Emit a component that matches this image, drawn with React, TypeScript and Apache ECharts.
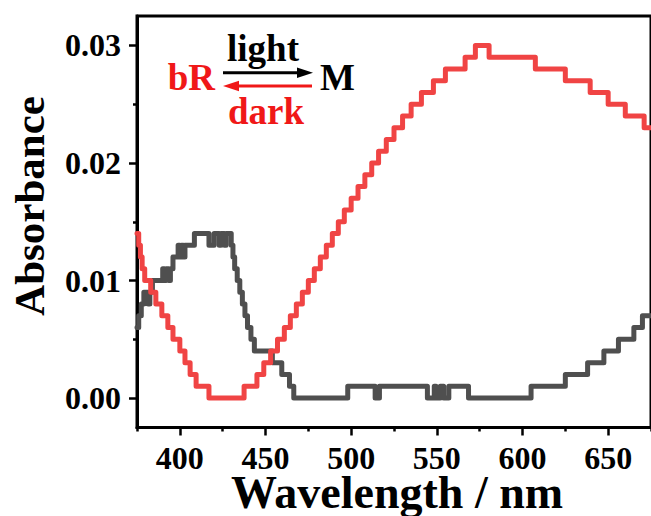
import React, { useEffect, useRef } from "react";
import * as echarts from "echarts";

const FONT = '"Liberation Serif", "Times New Roman", serif';

const X_MIN = 375;
const X_MAX = 675;
const Y_MIN = -0.0025;
const Y_MAX = 0.0325;
const xMajorTicks = [400, 450, 500, 550, 600, 650];
const xMinorTicks = [375, 425, 475, 525, 575, 625, 675];
const yMajorTicks = [0, 0.01, 0.02, 0.03];
const yMinorTicks = [0.005, 0.015, 0.025];

// M (dark grey) — wavelength at which each new level starts
const mWavelength = [
  375, 376, 377.5, 379, 381.5, 382.5, 384, 390, 391, 392, 393.5, 394.5, 396,
  399, 400, 401, 402, 403, 408.5, 417, 420, 423, 424, 426, 427, 430, 431, 432,
  433.5, 435, 436.5, 438, 439.5, 441.5, 443.5, 454, 459.5, 464, 466.5, 498,
  514, 516.5, 544.5, 548.5, 549.5, 552, 554, 557, 568.5, 605, 625, 638, 647.5,
  656, 665, 670, 675,
];
const mAbs = [
  0.006, 0.007, 0.008, 0.009, 0.008, 0.009, 0.01, 0.011, 0.01, 0.011, 0.01,
  0.011, 0.012, 0.013, 0.012, 0.013, 0.012, 0.013, 0.014, 0.013, 0.014, 0.013,
  0.014, 0.013, 0.014, 0.013, 0.012, 0.011, 0.01, 0.009, 0.008, 0.007, 0.006,
  0.005, 0.004, 0.003, 0.002, 0.001, 0, 0.001, 0, 0.001, 0, 0.001, 0, 0.001,
  0, 0.001, 0, 0.001, 0.002, 0.003, 0.004, 0.005, 0.006, 0.007, 0.007,
];

// bR (red)
const bRWavelength = [
  375, 376, 377, 378, 379.5, 383, 386, 389.5, 393, 396, 400, 403, 406, 409.5,
  417, 437.5, 445, 449, 453, 457, 461, 464.5, 468, 471.5, 475, 478.5, 482,
  485.5, 489, 492.5, 496, 500, 504, 508, 512, 516, 520.5, 525, 530, 535, 541,
  548, 555, 566.5, 572.5, 580.5, 607.5, 625, 639.5, 650, 660, 671, 675,
];
const bRAbs = [
  0.014, 0.013, 0.012, 0.011, 0.01, 0.009, 0.008, 0.007, 0.006, 0.005, 0.004,
  0.003, 0.002, 0.001, 0, 0.001, 0.002, 0.003, 0.004, 0.005, 0.006, 0.007,
  0.008, 0.009, 0.01, 0.011, 0.012, 0.013, 0.014, 0.015, 0.016, 0.017, 0.018,
  0.019, 0.02, 0.021, 0.022, 0.023, 0.024, 0.025, 0.026, 0.027, 0.028, 0.029,
  0.03, 0.029, 0.028, 0.027, 0.026, 0.025, 0.024, 0.023, 0.023,
];

const xTitle = "Wavelength / nm";
const yTitle = "Absorbance";

const zip = (xs: number[], ys: number[]) => xs.map((x, i) => [x, ys[i]]);

export default function App() {
  const ref = useRef<HTMLDivElement>(null);
  useEffect(() => {
    if (!ref.current) return;
    const chart = echarts.init(ref.current, undefined, { renderer: "svg" });
    const labelStyle = {
      color: "#000",
      fontFamily: FONT,
      fontWeight: "bold" as const,
      fontSize: 32,
    };
    const grid = { left: 137, top: 16, width: 518, height: 411.5, show: true, borderColor: "#000", borderWidth: 3, backgroundColor: "transparent" };
    const option: any = {
      animation: false,
      grid,
      xAxis: [
        {
          type: "value",
          min: X_MIN,
          max: X_MAX,
          position: "bottom",
          axisLine: { show: true, onZero: false, lineStyle: { color: "#000", width: 3 } },
          axisTick: { show: true, inside: false, length: 8, customValues: xMajorTicks, lineStyle: { color: "#000", width: 2.5 } },
          axisLabel: { show: true, customValues: xMajorTicks, margin: 14, ...labelStyle },
          splitLine: { show: false },
        },
        {
          type: "value",
          min: X_MIN,
          max: X_MAX,
          position: "bottom",
          axisLine: { show: false, onZero: false },
          axisTick: { show: true, inside: false, length: 4, customValues: xMinorTicks, lineStyle: { color: "#000", width: 2.5 } },
          axisLabel: { show: false },
          splitLine: { show: false },
        },
      ],
      yAxis: [
        {
          type: "value",
          min: Y_MIN,
          max: Y_MAX,
          position: "left",
          axisLine: { show: true, onZero: false, lineStyle: { color: "#000", width: 3 } },
          axisTick: { show: true, inside: false, length: 8, customValues: yMajorTicks, lineStyle: { color: "#000", width: 2.5 } },
          axisLabel: { show: true, customValues: yMajorTicks, margin: 16, formatter: (v: number) => v.toFixed(2), ...labelStyle },
          splitLine: { show: false },
        },
        {
          type: "value",
          min: Y_MIN,
          max: Y_MAX,
          position: "left",
          offset: 0,
          axisLine: { show: false, onZero: false },
          axisTick: { show: true, inside: false, length: 4, customValues: yMinorTicks, lineStyle: { color: "#000", width: 2.5 } },
          axisLabel: { show: false },
          splitLine: { show: false },
        },
      ],
      series: [
        {
          name: "M",
          type: "line",
          step: "end",
          xAxisIndex: 0,
          yAxisIndex: 0,
          data: zip(mWavelength, mAbs),
          symbol: "none",
          clip: true,
          lineStyle: { color: "#4f4f4f", width: 5, join: "round", cap: "round" },
        },
        {
          name: "bR",
          type: "line",
          step: "end",
          xAxisIndex: 0,
          yAxisIndex: 0,
          data: zip(bRWavelength, bRAbs),
          symbol: "none",
          clip: true,
          lineStyle: { color: "#f04444", width: 5, join: "round", cap: "round" },
        },
      ],
      graphic: [
        {
          type: "text",
          x: 29,
          y: 206,
          rotation: Math.PI / 2,
          style: { text: yTitle, fontFamily: FONT, fontWeight: "bold", fontSize: 43, fill: "#000", align: "center", verticalAlign: "middle" },
        },
        {
          type: "text",
          x: 397,
          y: 492,
          style: { text: xTitle, fontFamily: FONT, fontWeight: "bold", fontSize: 46, lineHeight: 36, fill: "#000", align: "center", verticalAlign: "middle" },
        },
        {
          type: "text",
          x: 215,
          y: 77.5,
          style: { text: "bR", fontFamily: FONT, fontWeight: "bold", fontSize: 37, fill: "#f01818", align: "right", verticalAlign: "middle" },
        },
        {
          type: "text",
          x: 320,
          y: 77.5,
          style: { text: "M", fontFamily: FONT, fontWeight: "bold", fontSize: 37, fill: "#000", align: "left", verticalAlign: "middle" },
        },
        {
          type: "text",
          x: 263,
          y: 48.5,
          style: { text: "light", fontFamily: FONT, fontWeight: "bold", fontSize: 37, fill: "#000", align: "center", verticalAlign: "middle" },
        },
        {
          type: "text",
          x: 266,
          y: 111.5,
          style: { text: "dark", fontFamily: FONT, fontWeight: "bold", fontSize: 37, fill: "#f01818", align: "center", verticalAlign: "middle" },
        },
        {
          type: "line",
          shape: { x1: 223, y1: 72.7, x2: 300, y2: 72.7 },
          style: { stroke: "#000", lineWidth: 3 },
        },
        {
          type: "polygon",
          shape: { points: [[297, 67.5], [313, 72.7], [297, 78]] },
          style: { fill: "#000" },
        },
        {
          type: "line",
          shape: { x1: 236, y1: 86, x2: 312, y2: 86 },
          style: { stroke: "#f01818", lineWidth: 3 },
        },
        {
          type: "polygon",
          shape: { points: [[239, 80.8], [223, 86], [239, 91.2]] },
          style: { fill: "#f01818" },
        },
      ],
    };
    chart.setOption(option);
    return () => chart.dispose();
  }, []);
  return (
    <div
      ref={ref}
      style={{ position: "fixed", left: 0, top: 0, width: 651, height: 516, background: "#fff" }}
    />
  );
}
